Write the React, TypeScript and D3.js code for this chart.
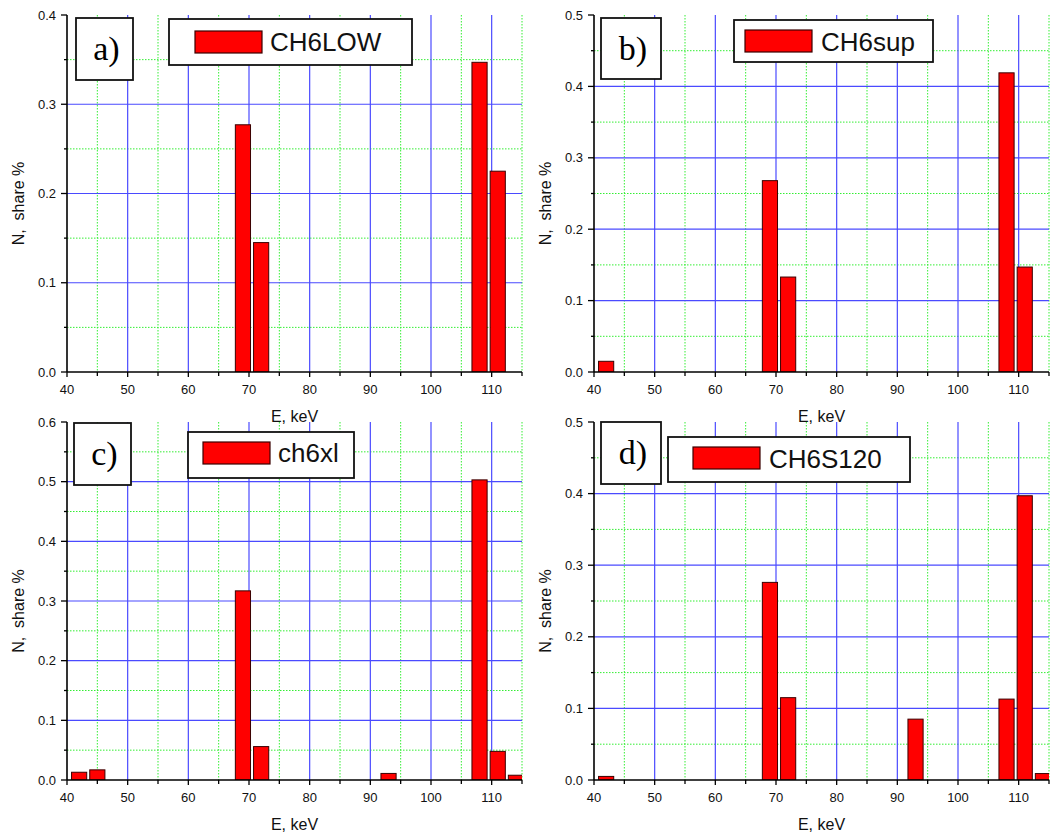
import React from "react";
import * as d3 from "d3";

// ---- data ----
const panelLetters = ["a)", "b)", "c)", "d)"];
const seriesNames = ["CH6LOW", "CH6sup", "ch6xl", "CH6S120"];
const yMaxes = [0.4, 0.5, 0.6, 0.5];

const energiesA = [69, 72, 108, 111];
const valuesA = [0.277, 0.145, 0.347, 0.225];
const energiesB = [42, 69, 72, 108, 111];
const valuesB = [0.015, 0.268, 0.133, 0.419, 0.147];
const energiesC = [42, 45, 69, 72, 93, 108, 111, 114];
const valuesC = [0.013, 0.017, 0.317, 0.056, 0.011, 0.503, 0.048, 0.008];
const energiesD = [42, 69, 72, 93, 108, 111, 114];
const valuesD = [0.005, 0.276, 0.115, 0.085, 0.113, 0.397, 0.009];

const xTickLabels = [40, 50, 60, 70, 80, 90, 100, 110];
const xDomain = [40, 115];
const barWidthKeV = 2.5;
const xLabel = "E, keV";
const yLabel = "N,  share %";

const energies = [energiesA, energiesB, energiesC, energiesD];
const values = [valuesA, valuesB, valuesC, valuesD];

// ---- layout ----
const plots = [
  { l: 67, r: 522, t: 15, b: 372 },
  { l: 594, r: 1049, t: 15, b: 372 },
  { l: 67, r: 522, t: 422, b: 780 },
  { l: 594, r: 1049, t: 422, b: 780 },
];
const letterBoxes = [
  { x: 76, y: 18, w: 57, h: 62 },
  { x: 601, y: 18, w: 60, h: 61 },
  { x: 74, y: 423, w: 57, h: 62 },
  { x: 601, y: 422, w: 60, h: 62 },
];
const legends = [
  { x: 169, y: 19, w: 243, h: 46, sx: 195, sy: 31, tx: 270, ty: 51 },
  { x: 734, y: 20, w: 199, h: 42, sx: 745, sy: 30, tx: 821, ty: 51 },
  { x: 188, y: 432, w: 166, h: 46, sx: 203, sy: 442, tx: 278, ty: 462 },
  { x: 668, y: 437, w: 242, h: 45, sx: 693, sy: 447, tx: 769, ty: 468 },
];

const SANS = "'Liberation Sans', Arial, sans-serif";
const SERIF = "'Liberation Serif', 'Times New Roman', serif";

function Panel({ i }: { i: number }) {
  const p = plots[i];
  const yMax = yMaxes[i];
  const x = d3.scaleLinear().domain(xDomain).range([p.l, p.r]);
  const y = d3.scaleLinear().domain([0, yMax]).range([p.b, p.t]);
  const nMajY = Math.round(yMax / 0.1);
  const yMajor = d3.range(0, nMajY + 1).map((k) => k * 0.1);
  const yMinor = d3.range(0, nMajY).map((k) => k * 0.1 + 0.05);
  const xMinor = d3.range(45, 116, 10);
  const lg = legends[i];
  const lb = letterBoxes[i];
  const clipId = `clip${i}`;
  const fmt = d3.format(".1f");
  return (
    <g>
      <defs>
        <clipPath id={clipId}>
          <rect x={p.l} y={p.t - 2} width={p.r - p.l} height={p.b - p.t + 2} />
        </clipPath>
      </defs>
      {/* minor grid */}
      {xMinor.map((v) => (
        <line key={"gx" + v} x1={x(v)} x2={x(v)} y1={p.t} y2={p.b} stroke="#33ee33" strokeWidth={1} strokeDasharray="1.5 1.5" />
      ))}
      {yMinor.map((v) => (
        <line key={"gy" + v} x1={p.l} x2={p.r} y1={y(v)} y2={y(v)} stroke="#33ee33" strokeWidth={1} strokeDasharray="1.5 1.5" />
      ))}
      {/* major grid */}
      {xTickLabels.filter((v) => v > 40).map((v) => (
        <line key={"Gx" + v} x1={x(v)} x2={x(v)} y1={p.t} y2={p.b} stroke="#4a4aff" strokeWidth={1.2} />
      ))}
      {yMajor.filter((v) => v > 0 && v < yMax - 1e-9).map((v) => (
        <line key={"Gy" + v} x1={p.l} x2={p.r} y1={y(v)} y2={y(v)} stroke="#4a4aff" strokeWidth={1.2} />
      ))}
      {/* bars */}
      <g clipPath={`url(#${clipId})`}>
        {energies[i].map((e, k) => (
          <rect
            key={"b" + k}
            x={x(e - barWidthKeV / 2)}
            y={y(values[i][k])}
            width={x(e + barWidthKeV / 2) - x(e - barWidthKeV / 2)}
            height={p.b - y(values[i][k])}
            fill="#ff0000"
            stroke="#3a0000"
            strokeWidth={1}
          />
        ))}
      </g>
      {/* axes */}
      <line x1={p.l} x2={p.l} y1={p.t} y2={p.b} stroke="#000" strokeWidth={1.6} />
      <line x1={p.l} x2={p.r} y1={p.b} y2={p.b} stroke="#000" strokeWidth={1.6} />
      {xTickLabels.map((v) => (
        <g key={"tx" + v}>
          <line x1={x(v)} x2={x(v)} y1={p.b} y2={p.b + 5} stroke="#000" strokeWidth={1.3} />
          <text x={x(v)} y={p.b + 22} textAnchor="middle" fontFamily={SANS} fontSize={13} fill="#111">
            {v}
          </text>
        </g>
      ))}
      {xMinor.map((v) => (
        <line key={"mx" + v} x1={x(v)} x2={x(v)} y1={p.b} y2={p.b + 4} stroke="#000" strokeWidth={1.3} />
      ))}
      {yMajor.map((v) => (
        <g key={"ty" + v}>
          <line x1={p.l - 6} x2={p.l} y1={y(v)} y2={y(v)} stroke="#000" strokeWidth={1.3} />
          <text x={p.l - 11} y={y(v)} dy="0.36em" textAnchor="end" fontFamily={SANS} fontSize={13} fill="#111">
            {fmt(v)}
          </text>
        </g>
      ))}
      {yMinor.map((v) => (
        <line key={"my" + v} x1={p.l - 3} x2={p.l} y1={y(v)} y2={y(v)} stroke="#000" strokeWidth={1.3} />
      ))}
      {/* axis labels */}
      <text x={(p.l + p.r) / 2} y={p.b + 50} textAnchor="middle" fontFamily={SANS} fontSize={16} fill="#111">
        {xLabel}
      </text>
      <text
        transform={`translate(${p.l - 43},${(p.t + p.b) / 2 + 10}) rotate(-90)`}
        textAnchor="middle"
        fontFamily={SANS}
        fontSize={16}
        fill="#111"
        style={{ whiteSpace: "pre" }}
      >
        {yLabel}
      </text>
      {/* letter box */}
      <rect x={lb.x} y={lb.y} width={lb.w} height={lb.h} fill="#fff" stroke="#111" strokeWidth={1.8} />
      <text x={lb.x + lb.w / 2 + 2} y={lb.y + 42} textAnchor="middle" fontFamily={SERIF} fontSize={34} fill="#000">
        {panelLetters[i]}
      </text>
      {/* legend */}
      <rect x={lg.x} y={lg.y} width={lg.w} height={lg.h} fill="#fff" stroke="#111" strokeWidth={1.8} />
      <rect x={lg.sx} y={lg.sy} width={67} height={22} fill="#ff0000" stroke="#3a0000" strokeWidth={1.2} />
      <text x={lg.tx} y={lg.ty} fontFamily={SANS} fontSize={26} fill="#111">
        {seriesNames[i]}
      </text>
    </g>
  );
}

export default function App() {
  return (
    <svg
      width={1055}
      height={835}
      viewBox="0 0 1055 835"
      style={{ position: "absolute", left: 0, top: 0, background: "#fff" }}
    >
      <rect x={0} y={0} width={1055} height={835} fill="#fff" />
      {[0, 1, 2, 3].map((i) => (
        <Panel key={i} i={i} />
      ))}
    </svg>
  );
}
